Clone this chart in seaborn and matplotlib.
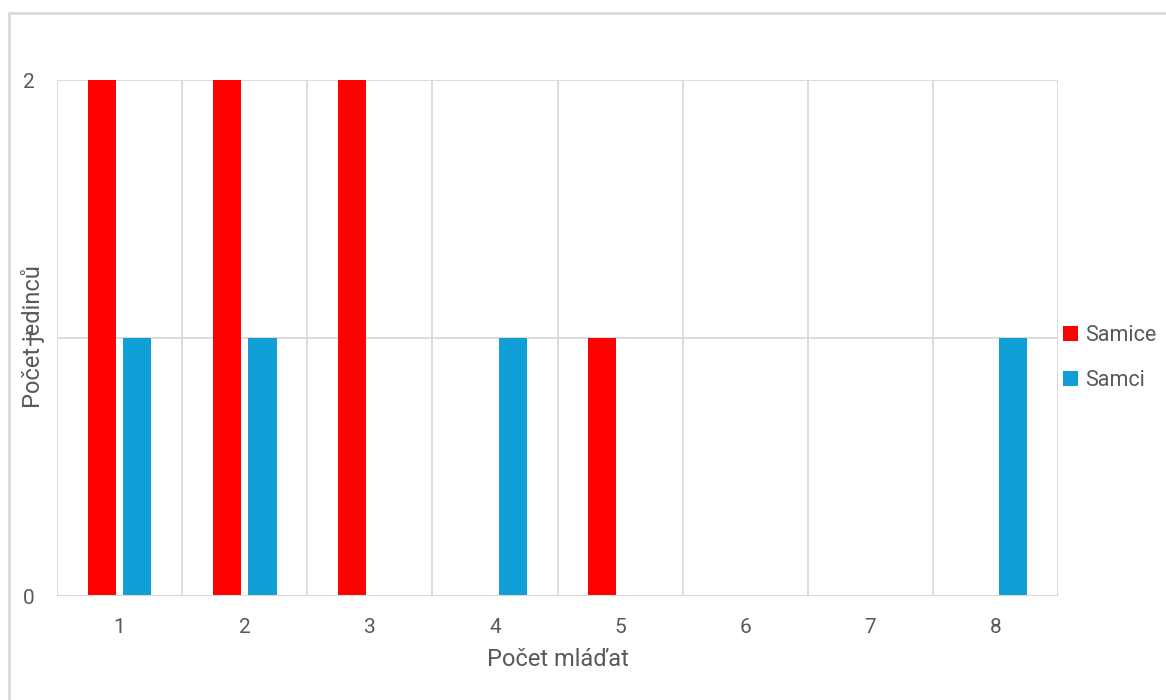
import matplotlib
matplotlib.use("Agg")
import matplotlib.pyplot as plt
import seaborn as sns
import pandas as pd
from matplotlib.lines import Line2D
from matplotlib.patches import Patch

categories = ["1", "2", "3", "4", "5", "6", "7", "8"]
samice = [2, 2, 2, 0, 1, 0, 0, 0]
samci = [1, 1, 0, 1, 0, 0, 0, 1]
series_names = ["Samice", "Samci"]
colors = {"Samice": "#FF0000", "Samci": "#0F9ED5"}

df = pd.DataFrame({
    "cat": categories * 2,
    "val": samice + samci,
    "series": [series_names[0]] * len(categories) + [series_names[1]] * len(categories),
})

sns.set_theme(style="white")
plt.rcParams["font.family"] = ["Roboto", "DejaVu Sans"]
text_color = "#595959"
grid_color = "#D9D9D9"

fig = plt.figure(figsize=(11.66, 7.0), dpi=100)
ax = fig.add_axes([57 / 1166, 1 - 596 / 700, (1058 - 57) / 1166, (596 - 80) / 700])

sns.barplot(data=df, x="cat", y="val", hue="series", palette=colors,
            order=categories, hue_order=series_names, width=0.57, gap=0.21,
            saturation=1, ax=ax, legend=False, linewidth=0)

ax.set_xlim(-0.5, len(categories) - 0.5)
ax.set_ylim(0, 2)
ax.set_yticks([0, 1, 2])
ax.set_yticklabels(["0", "1", "2"])
for x in range(len(categories) + 1):
    ax.axvline(x - 0.5, color=grid_color, lw=1.3, zorder=0)
for y in [1, 2]:
    ax.axhline(y, color=grid_color, lw=1.3, zorder=0)
for s in ax.spines.values():
    s.set_visible(False)
ax.axhline(0, color=grid_color, lw=1.5, zorder=3)

ax.tick_params(axis="both", length=0, labelsize=15, colors=text_color)
ax.tick_params(axis="x", pad=16)
ax.tick_params(axis="y", pad=16)
ax.set_xlabel("Počet mláďat", fontsize=17, color=text_color, labelpad=8)
ax.set_ylabel("")
fig.text(33 / 1166, 1 - 337 / 700, "Počet jedinců", rotation=90, fontsize=17,
         color=text_color, ha="center", va="center")

handles = [Patch(facecolor=colors[n], edgecolor="none") for n in series_names]
fig.legend(handles, series_names, loc="center left",
           bbox_to_anchor=(1054 / 1166, 1 - 358 / 700), frameon=False,
           fontsize=15.5, labelcolor=text_color, handlelength=0.7, handleheight=0.7,
           handletextpad=0.35, labelspacing=1.15, borderaxespad=0)

# outer chart border (top and left visible in crop)
fig.add_artist(Line2D([9 / 1166, 1.0], [1 - 13 / 700, 1 - 13 / 700],
                      transform=fig.transFigure, color=grid_color, lw=2))
fig.add_artist(Line2D([9 / 1166, 9 / 1166], [0, 1 - 13 / 700],
                      transform=fig.transFigure, color=grid_color, lw=2))

fig.savefig("out.png", dpi=100, facecolor="white")
